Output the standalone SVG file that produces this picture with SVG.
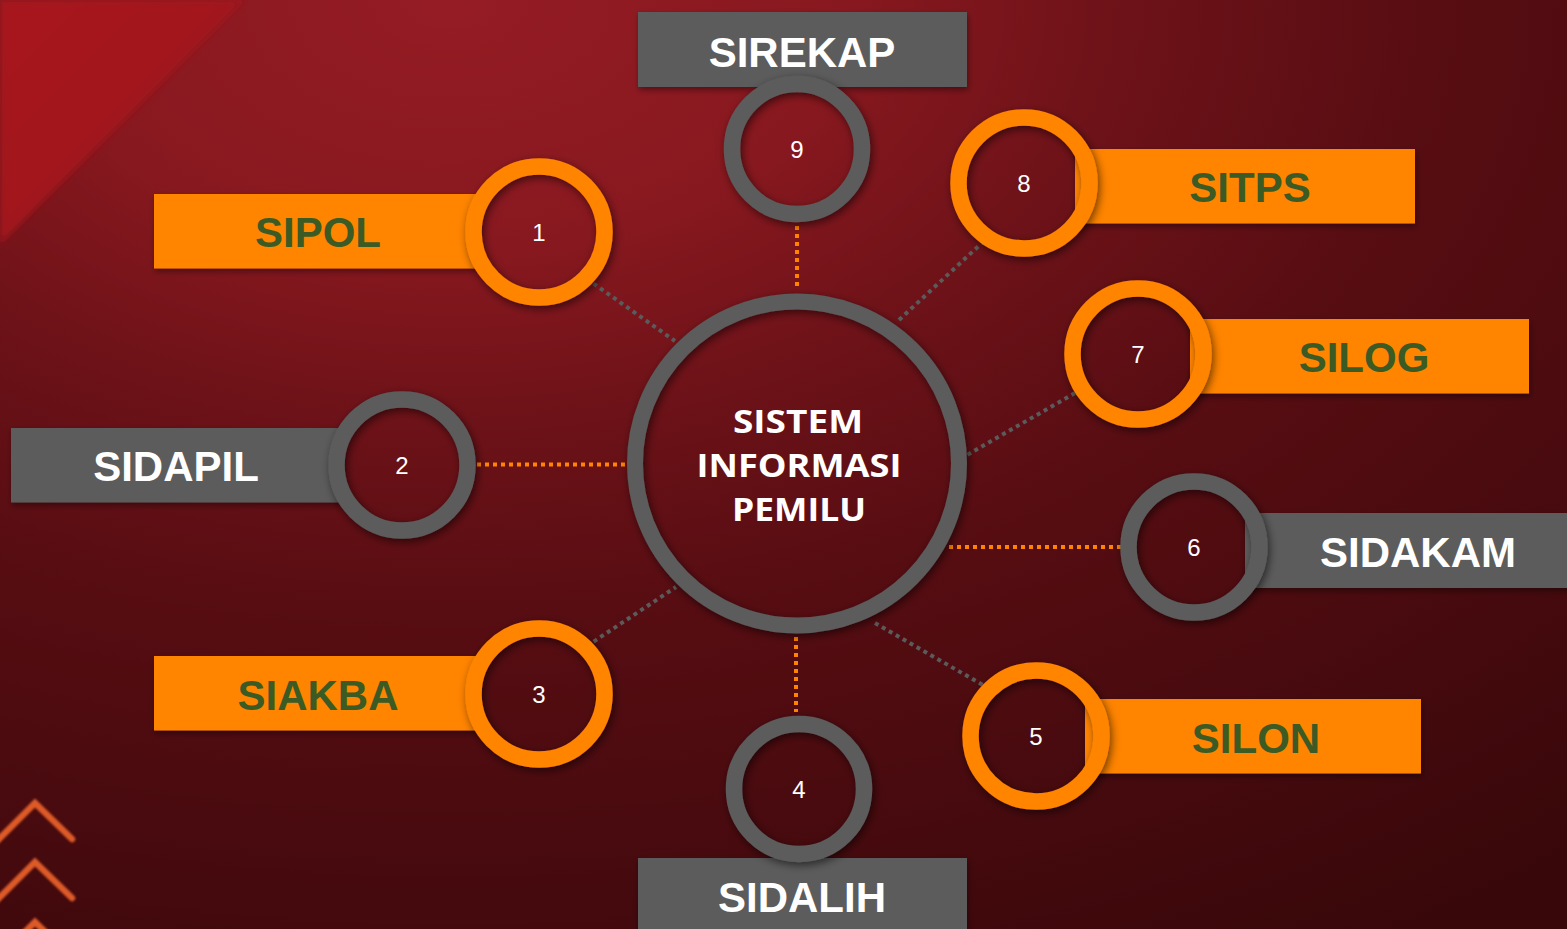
<svg xmlns="http://www.w3.org/2000/svg" width="1567" height="929" viewBox="0 0 1567 929">
<defs>
<radialGradient id="bg" cx="450" cy="0" r="1500" gradientUnits="userSpaceOnUse" gradientTransform="translate(450 0) scale(1.2 0.75) translate(-450 0)">
<stop offset="0" stop-color="#951c24"/>
<stop offset="0.22" stop-color="#88181f"/>
<stop offset="0.38" stop-color="#6c1218"/>
<stop offset="0.55" stop-color="#570d12"/>
<stop offset="0.8" stop-color="#450a0e"/>
<stop offset="1" stop-color="#370709"/>
</radialGradient>
<linearGradient id="corner" x1="0" y1="0" x2="1" y2="1">
<stop offset="0" stop-color="#a8121a"/>
<stop offset="1" stop-color="#9a141b"/>
</linearGradient>
<filter id="sh" x="-30%" y="-30%" width="160%" height="160%">
<feDropShadow dx="2" dy="3" stdDeviation="4" flood-color="#000" flood-opacity="0.55"/>
</filter>
<filter id="shb" x="-10%" y="-20%" width="120%" height="150%">
<feDropShadow dx="1" dy="3" stdDeviation="3" flood-color="#000" flood-opacity="0.4"/>
</filter>
<filter id="blur"><feGaussianBlur stdDeviation="3"/></filter>
<filter id="soft"><feGaussianBlur stdDeviation="0.8"/></filter>
</defs>
<style>
.ring{fill:none;stroke-width:16.5;filter:url(#sh)}
.o{stroke:#ff8400}
.g{stroke:#5b5b5b}
.bo{fill:#ff8400;filter:url(#shb)}
.bg{fill:#5b5b5b;filter:url(#shb)}
.lbl{font-family:"Liberation Sans",Arial,sans-serif;font-weight:bold;font-size:42px;text-anchor:middle}
.lg{fill:#3c5b24}
.lw{fill:#ffffff}
.num{font-family:"Liberation Sans",Arial,sans-serif;font-size:24px;fill:#ffffff;text-anchor:middle}
.ctr{font-family:"Open Sans","Noto Sans",sans-serif;font-weight:bold;font-size:32px;fill:#ffffff;text-anchor:middle}
.dot{fill:none;stroke-width:4;stroke-dasharray:4 4}
.dO{stroke:#ff8400}
.dG{stroke:#5b5b5b}
.chev{fill:none;stroke:#ee632c;stroke-width:6.5;stroke-linejoin:miter;stroke-linecap:round}
</style>

<g id="background">
<rect x="0" y="0" width="1567" height="929" fill="url(#bg)"/>
<polygon points="0,0 244,0 0,244" fill="url(#corner)" filter="url(#blur)"/>
<g opacity="0.9" filter="url(#soft)">
<path class="chev" d="M-5,843 L35,803 L72,839"/>
<path class="chev" d="M-5,902 L35,862 L72,898"/>
<path class="chev" d="M-5,962 L35,922 L72,958"/>
</g>
</g>

<g id="connectors">
<line class="dot dO" x1="797" y1="226" x2="797" y2="290"/>
<line class="dot dO" x1="796" y1="637" x2="796" y2="712"/>
<line class="dot dO" x1="469" y1="464.5" x2="625" y2="464.5"/>
<line class="dot dO" x1="949" y1="547" x2="1128" y2="547"/>
<line class="dot dG" x1="587" y1="279" x2="675" y2="341"/>
<line class="dot dG" x1="984" y1="241" x2="899" y2="320"/>
<line class="dot dG" x1="1075" y1="393" x2="967" y2="455"/>
<line class="dot dG" x1="587" y1="646" x2="676" y2="587"/>
<line class="dot dG" x1="875" y1="623" x2="988" y2="688"/>
</g>

<g id="center">
<circle class="ring g" cx="797" cy="463.5" r="162" style="stroke-width:16"/>
<text class="ctr" x="798" y="433" textLength="130" lengthAdjust="spacingAndGlyphs">SISTEM</text>
<text class="ctr" x="799" y="477" textLength="205" lengthAdjust="spacingAndGlyphs">INFORMASI</text>
<text class="ctr" x="799" y="521" textLength="134" lengthAdjust="spacingAndGlyphs">PEMILU</text>
</g>

<g id="node1">
<rect class="bo" x="154" y="194" width="322" height="74.5"/>
<text class="lbl lg" x="318" y="247">SIPOL</text>
<circle class="ring o" cx="539" cy="232" r="65.5"/>
<text class="num" x="539" y="241">1</text>
</g>

<g id="node2">
<rect class="bg" x="11" y="428" width="330" height="74.5"/>
<text class="lbl lw" x="176" y="481">SIDAPIL</text>
<circle class="ring g" cx="402" cy="465" r="65.5"/>
<text class="num" x="402" y="474">2</text>
</g>

<g id="node3">
<rect class="bo" x="154" y="656" width="322" height="74.5"/>
<text class="lbl lg" x="318" y="710">SIAKBA</text>
<circle class="ring o" cx="539" cy="694" r="65.5"/>
<text class="num" x="539" y="703">3</text>
</g>

<g id="node4">
<rect class="bg" x="638" y="858" width="329" height="80"/>
<text class="lbl lw" x="802" y="912">SIDALIH</text>
<circle class="ring g" cx="799" cy="789" r="65"/>
<text class="num" x="799" y="798">4</text>
</g>

<g id="node5">
<rect class="bo" x="1085" y="699" width="336" height="74.5"/>
<text class="lbl lg" x="1256" y="753">SILON</text>
<circle class="ring o" cx="1036" cy="736" r="65.5"/>
<text class="num" x="1036" y="745">5</text>
</g>

<g id="node6">
<rect class="bg" x="1245" y="513" width="330" height="75"/>
<text class="lbl lw" x="1418" y="567">SIDAKAM</text>
<circle class="ring g" cx="1194" cy="547" r="65.5"/>
<text class="num" x="1194" y="556">6</text>
</g>

<g id="node7">
<rect class="bo" x="1190" y="319" width="339" height="74.5"/>
<text class="lbl lg" x="1364" y="372">SILOG</text>
<circle class="ring o" cx="1138" cy="354" r="65.5"/>
<text class="num" x="1138" y="363">7</text>
</g>

<g id="node8">
<rect class="bo" x="1075" y="149" width="340" height="74.5"/>
<text class="lbl lg" x="1250" y="202">SITPS</text>
<circle class="ring o" cx="1024" cy="183" r="65.5"/>
<text class="num" x="1024" y="192">8</text>
</g>

<g id="node9">
<rect class="bg" x="638" y="12" width="329" height="75"/>
<text class="lbl lw" x="802" y="67">SIREKAP</text>
<circle class="ring g" cx="797" cy="149" r="65"/>
<text class="num" x="797" y="158">9</text>
</g>
</svg>
